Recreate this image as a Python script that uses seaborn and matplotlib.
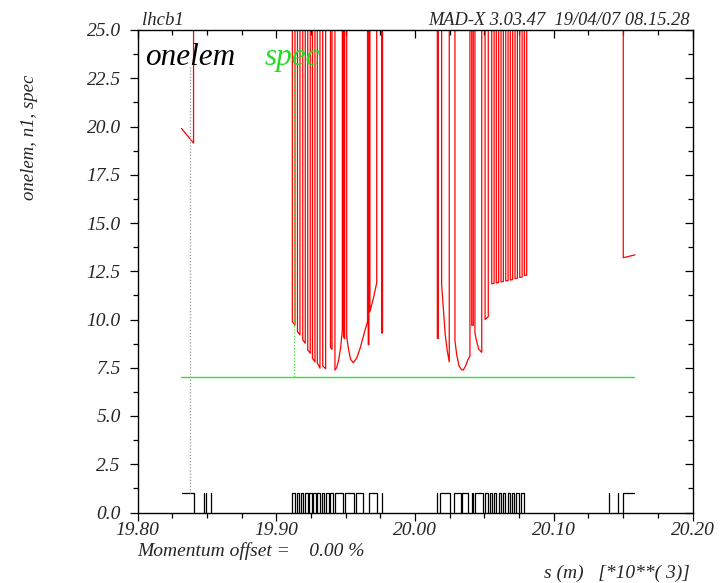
import numpy as np
import pandas as pd
import matplotlib
matplotlib.use("Agg")
import matplotlib.pyplot as plt
import seaborn as sns

# n1 aperture (red) - each dip: list of (s [km], n1) points, curve runs off-scale in between
TOP = 40.0
start_seg = [(19.8317, 19.90), (19.8404, 19.14)]
dips = [
    [(19.9116, 9.89), (19.9135, 9.70)],
    [(19.9153, 9.37), (19.9171, 9.20)],
    [(19.9191, 8.94), (19.9209, 8.77)],
    [(19.9227, 8.42), (19.9245, 8.25)],
    [(19.9261, 8.00), (19.9279, 7.80)],
    [(19.9296, 7.74), (19.9315, 7.48)],
    [(19.9335, 7.60), (19.9356, 7.45)],
    [(19.9391, 8.55), (19.9402, 8.45)],
    [(19.9423, 7.38), (19.9435, 7.50), (19.9450, 7.90), (19.9465, 8.60), (19.9476, 9.45)],
    [(19.9485, 9.10), (19.9493, 9.00)],
    [(19.9508, 9.10), (19.9520, 8.50), (19.9535, 7.95), (19.9555, 7.76), (19.9580, 8.00),
     (19.9604, 8.50), (19.9640, 9.45), (19.9658, 9.90)],
    [(19.9663, 8.70), (19.9668, 8.70)],
    [(19.9675, 10.40), (19.9700, 11.10), (19.9724, 11.90)],
    [(19.9760, 9.30), (19.9766, 9.30)],
    [(20.0161, 9.02), (20.0168, 9.02)],
    [(20.0192, 11.80), (20.0205, 10.50), (20.0218, 9.20), (20.0232, 8.40), (20.0247, 7.80)],
    [(20.0288, 8.90), (20.0300, 8.20), (20.0317, 7.60), (20.0335, 7.40), (20.0348, 7.38),
     (20.0365, 7.60), (20.0380, 7.90), (20.0396, 8.10)],
    [(20.0409, 9.70), (20.0420, 9.70)],
    [(20.0432, 9.30), (20.0445, 8.85), (20.0460, 8.45), (20.0481, 8.30)],
    [(20.0505, 10.00), (20.0528, 10.15)],
    [(20.0553, 11.85), (20.0570, 11.87)],
    [(20.0586, 11.90), (20.0603, 11.92)],
    [(20.0620, 11.95), (20.0637, 11.97)],
    [(20.0654, 12.00), (20.0671, 12.02)],
    [(20.0687, 12.05), (20.0704, 12.07)],
    [(20.0721, 12.12), (20.0738, 12.14)],
    [(20.0755, 12.18), (20.0772, 12.20)],
    [(20.0788, 12.28), (20.0805, 12.30)],
]
end_seg = [(20.1501, 13.20), (20.1586, 13.35)]

# spec (green)
spec_s = [19.831, 20.158]
spec_v = [7.0, 7.0]

# layout: boxes (s0, s1) height 1, thin elements
box_s0 = [19.9116, 19.9147, 19.9176, 19.9207, 19.9238, 19.9267, 19.9296, 19.9328, 19.9359, 19.9387,
          19.9423, 19.9495, 19.9575, 19.9671,
          20.0180, 20.0283, 20.0341, 20.0432,
          20.0505, 20.0537, 20.0569, 20.0602, 20.0634, 20.0667, 20.0699, 20.0731, 20.0764]
box_s1 = [19.9135, 19.9166, 19.9195, 19.9227, 19.9258, 19.9286, 19.9315, 19.9346, 19.9378, 19.9407,
          19.9483, 19.9560, 19.9627, 19.9724,
          20.0252, 20.0332, 20.0384, 20.0492,
          20.0523, 20.0555, 20.0587, 20.0620, 20.0652, 20.0685, 20.0717, 20.0749, 20.0782]
thin_s = [19.8476, 19.8494, 19.8530, 19.9760, 20.0161, 20.0409, 20.0418, 20.1400, 20.1461]

# build red polyline
pts = list(start_seg) + [(start_seg[-1][0], TOP)]
for d in dips:
    pts += [(d[0][0], TOP)] + d + [(d[-1][0], TOP)]
pts += [(end_seg[0][0], TOP)] + end_seg
red = pd.DataFrame(pts, columns=["s", "n1"])

sns.set_style("white")
plt.rcParams["font.family"] = ["Liberation Serif", "DejaVu Serif"]
plt.rcParams["font.style"] = "italic"

fig = plt.figure(figsize=(7.26, 5.83), dpi=100)
ax = fig.add_axes([137.5 / 726, 70.5 / 583, 555 / 726, 482.5 / 583])

sns.lineplot(data=red, x="s", y="n1", sort=False, estimator=None, color="#ff0000", lw=0.9, ax=ax)
sns.lineplot(x=spec_s, y=spec_v, color="#33e033", lw=1.0, ax=ax)

# layout
for a, b in zip(box_s0, box_s1):
    ax.plot([a, a, b, b], [0, 1, 1, 0], color="black", lw=0.9)
for s in thin_s:
    ax.plot([s, s], [0, 1], color="black", lw=0.9)
ax.plot([19.8319, 19.8409, 19.8409], [1, 1, 0], color="black", lw=0.9)
ax.plot([20.1501, 20.1501, 20.1581], [0, 1, 1], color="black", lw=0.9)

# dotted label markers
ax.plot([19.8375, 19.8375], [1.0, 23.2], color="#999999", lw=0.9, ls=(0, (1, 1.5)))
ax.plot([19.9130, 19.9130], [7.0, 23.2], color="#33e033", lw=0.9, ls=(0, (1, 1.5)))

ax.set_xlim(19.80, 20.20)
ax.set_ylim(0, 25)
ax.set_xticks(np.arange(19.80, 20.201, 0.10))
ax.set_xticklabels(["19.80", "19.90", "20.00", "20.10", "20.20"])
ax.set_xticks(np.arange(19.80, 20.201, 0.025), minor=True)
ax.set_yticks(np.arange(0, 25.01, 2.5))
ax.set_yticklabels([f"{v:.1f}" for v in np.arange(0, 25.01, 2.5)])
ax.set_yticks(np.arange(0, 25.01, 1.25), minor=True)
ax.tick_params(axis="both", which="both", labelsize=14, width=0.9, color="black")
ax.tick_params(which="major", length=6)
ax.tick_params(which="minor", length=3.5)
ax.tick_params(axis="x", which="both", bottom=True, top=True, direction="out", pad=1)
ax.tick_params(axis="y", which="both", left=True, right=True, direction="out", pad=6)
for t in ax.xaxis.get_major_ticks() + ax.xaxis.get_minor_ticks():
    t.tick2line.set_marker(3)  # top ticks pointing down (inward)
for t in ax.yaxis.get_major_ticks() + ax.yaxis.get_minor_ticks():
    t.tick2line.set_marker(0)  # right ticks pointing left (inward)
for sp in ax.spines.values():
    sp.set_color("black")
    sp.set_linewidth(1.0)
ax.set_xlabel("")
ax.set_ylabel("")

fig.text(142 / 726, 1 - 25 / 583, "lhcb1", fontsize=13.5, ha="left", va="baseline")
fig.text(690 / 726, 1 - 25 / 583, "MAD-X 3.03.47  19/04/07 08.15.28", fontsize=13.2, ha="right", va="baseline")
fig.text(145 / 726, 1 - 65 / 583, "onelem", fontsize=22.5, ha="left", va="baseline", color="black")
fig.text(265 / 726, 1 - 65 / 583, "spec", fontsize=22.5, ha="left", va="baseline", color="#22dd22")
fig.text(30 / 726, 1 - 137 / 583, "onelem, n1, spec", fontsize=13.5, rotation=90, ha="center", va="center")
fig.text(137 / 726, 1 - 556 / 583, "Momentum offset =    0.00 %", fontsize=14, ha="left", va="baseline")
fig.text(690 / 726, 1 - 578 / 583, "s (m)   [*10**( 3)]", fontsize=14, ha="right", va="baseline")

fig.savefig("out.png", dpi=100)
